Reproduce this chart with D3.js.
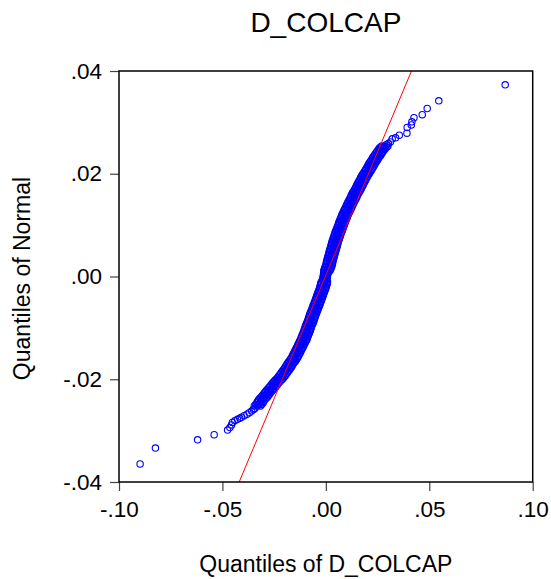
<!DOCTYPE html>
<html>
<head>
<meta charset="utf-8">
<script src="https://cdn.jsdelivr.net/npm/d3@7"></script>
<style>
  body { margin: 0; background: #fff; }
  text { font-family: "Liberation Sans", Arial, sans-serif; fill: #000; }
</style>
</head>
<body>
<div id="chart"></div>
<script>
// axis ticks
const xTicks = [-0.10, -0.05, 0.00, 0.05, 0.10];
const yTicks = [-0.04, -0.02, 0.00, 0.02, 0.04];

// lower tail: sorted D_COLCAP (x) vs normal quantiles (y)
const lowerX = [-0.0898, -0.0824, -0.0620, -0.0540, -0.0475, -0.0464, -0.0456, -0.0452, -0.0440,
  -0.0427, -0.0416, -0.0408, -0.0395, -0.0381, -0.0370, -0.0359, -0.0350, -0.0343];
const lowerY = [-0.0365, -0.0334, -0.0318, -0.0308, -0.0299, -0.0294, -0.0289, -0.0284, -0.0281,
  -0.0278, -0.0276, -0.0274, -0.0271, -0.0268, -0.0265, -0.0262, -0.0259, -0.0257];

// dense middle band: normal quantile levels, with left edge / centre / right edge of the band
const bandY = [
  -0.0252, -0.0246, -0.0240, -0.0235, -0.0229, -0.0223, -0.0217, -0.0211, -0.0205, -0.0200,
  -0.0194, -0.0188, -0.0182, -0.0176, -0.0170, -0.0165, -0.0159, -0.0153, -0.0147, -0.0141,
  -0.0135, -0.0129, -0.0124, -0.0118, -0.0112, -0.0106, -0.0100, -0.0094, -0.0089, -0.0083,
  -0.0077, -0.0071, -0.0065, -0.0059, -0.0054, -0.0048, -0.0042, -0.0036, -0.0030, -0.0024,
  -0.0018, -0.0013, -0.0007, -0.0001, 0.0005, 0.0011, 0.0017, 0.0022, 0.0028, 0.0034,
  0.0040, 0.0046, 0.0052, 0.0057, 0.0063, 0.0069, 0.0075, 0.0081, 0.0087,
  0.0092, 0.0098, 0.0104, 0.0110, 0.0116, 0.0122, 0.0128, 0.0133, 0.0139, 0.0145,
  0.0151, 0.0157, 0.0163, 0.0168, 0.0174, 0.0180, 0.0186, 0.0192, 0.0198, 0.0203,
  0.0209, 0.0215, 0.0221, 0.0227, 0.0233, 0.0238, 0.0244, 0.0250, 0.0254];
const bandXLeft = [
  -0.0346, -0.0334, -0.0325, -0.0313, -0.0302, -0.0290, -0.0277, -0.0265, -0.0252, -0.0240,
  -0.0228, -0.0217, -0.0206, -0.0196, -0.0187, -0.0177, -0.0168, -0.0160, -0.0152, -0.0145,
  -0.0137, -0.0130, -0.0123, -0.0118, -0.0112, -0.0106, -0.0101, -0.0096, -0.0090, -0.0085,
  -0.0080, -0.0075, -0.0069, -0.0063, -0.0058, -0.0053, -0.0047, -0.0042, -0.0037, -0.0031,
  -0.0027, -0.0023, -0.0015, -0.0013, -0.0011, -0.0010, -0.0005, 0.0000, 0.0003, 0.0007,
  0.0011, 0.0015, 0.0019, 0.0023, 0.0027, 0.0031, 0.0036, 0.0041, 0.0046,
  0.0051, 0.0057, 0.0062, 0.0068, 0.0074, 0.0080, 0.0087, 0.0093, 0.0100, 0.0107,
  0.0115, 0.0122, 0.0129, 0.0137, 0.0145, 0.0152, 0.0160, 0.0168, 0.0176, 0.0184,
  0.0193, 0.0202, 0.0210, 0.0220, 0.0229, 0.0238, 0.0248, 0.0259, 0.0270];
const bandXCentre = [
  -0.0331, -0.0319, -0.0310, -0.0298, -0.0287, -0.0275, -0.0262, -0.0250, -0.0237, -0.0225,
  -0.0213, -0.0202, -0.0191, -0.0181, -0.0172, -0.0162, -0.0153, -0.0145, -0.0137, -0.0130,
  -0.0122, -0.0115, -0.0108, -0.0103, -0.0097, -0.0091, -0.0086, -0.0081, -0.0075, -0.0070,
  -0.0065, -0.0060, -0.0054, -0.0048, -0.0043, -0.0038, -0.0032, -0.0027, -0.0022, -0.0016,
  -0.0012, -0.0008, -0.0005, -0.0003, -0.0001, 0.0005, 0.0010, 0.0015, 0.0018, 0.0022,
  0.0026, 0.0030, 0.0034, 0.0038, 0.0042, 0.0046, 0.0051, 0.0056, 0.0061,
  0.0066, 0.0072, 0.0077, 0.0083, 0.0089, 0.0095, 0.0102, 0.0108, 0.0115, 0.0122,
  0.0130, 0.0137, 0.0144, 0.0152, 0.0160, 0.0167, 0.0175, 0.0183, 0.0191, 0.0199,
  0.0208, 0.0217, 0.0225, 0.0235, 0.0244, 0.0253, 0.0263, 0.0274, 0.0285];
const bandXRight = [
  -0.0316, -0.0304, -0.0295, -0.0283, -0.0272, -0.0260, -0.0247, -0.0235, -0.0222, -0.0210,
  -0.0198, -0.0187, -0.0176, -0.0166, -0.0157, -0.0147, -0.0138, -0.0130, -0.0122, -0.0115,
  -0.0107, -0.0100, -0.0093, -0.0088, -0.0082, -0.0076, -0.0071, -0.0066, -0.0060, -0.0055,
  -0.0050, -0.0045, -0.0039, -0.0033, -0.0028, -0.0023, -0.0017, -0.0012, -0.0007, -0.0001,
  0.0003, 0.0007, 0.0005, 0.0007, 0.0009, 0.0020, 0.0025, 0.0030, 0.0033, 0.0037,
  0.0041, 0.0045, 0.0049, 0.0053, 0.0057, 0.0061, 0.0066, 0.0071, 0.0076,
  0.0081, 0.0087, 0.0092, 0.0098, 0.0104, 0.0110, 0.0117, 0.0123, 0.0130, 0.0137,
  0.0145, 0.0152, 0.0159, 0.0167, 0.0175, 0.0182, 0.0190, 0.0198, 0.0206, 0.0214,
  0.0223, 0.0232, 0.0240, 0.0250, 0.0259, 0.0268, 0.0278, 0.0289, 0.0300];

// the same band at the levels in between
const bandYMid = [
  -0.0249, -0.0243, -0.0237, -0.0232, -0.0226, -0.0220, -0.0214, -0.0208, -0.0202, -0.0197,
  -0.0191, -0.0185, -0.0179, -0.0173, -0.0167, -0.0162, -0.0156, -0.0150, -0.0144, -0.0138,
  -0.0132, -0.0126, -0.0121, -0.0115, -0.0109, -0.0103, -0.0097, -0.0091, -0.0086, -0.0080,
  -0.0074, -0.0068, -0.0062, -0.0056, -0.0051, -0.0045, -0.0039, -0.0033, -0.0027, -0.0021,
  -0.0015, -0.0010, -0.0004, 0.0002, 0.0008, 0.0014, 0.0019, 0.0025, 0.0031, 0.0037,
  0.0043, 0.0049, 0.0054, 0.0060, 0.0066, 0.0072, 0.0078, 0.0084, 0.0089,
  0.0095, 0.0101, 0.0107, 0.0113, 0.0119, 0.0125, 0.0130, 0.0136, 0.0142, 0.0148,
  0.0154, 0.0160, 0.0165, 0.0171, 0.0177, 0.0183, 0.0189, 0.0195, 0.0200, 0.0206,
  0.0212, 0.0218, 0.0224, 0.0230, 0.0235, 0.0241, 0.0247, 0.0252];
const bandXLeftMid = [
  -0.0340, -0.0330, -0.0319, -0.0308, -0.0296, -0.0284, -0.0271, -0.0259, -0.0246, -0.0234,
  -0.0223, -0.0212, -0.0201, -0.0192, -0.0182, -0.0173, -0.0164, -0.0156, -0.0149, -0.0141,
  -0.0134, -0.0127, -0.0121, -0.0115, -0.0109, -0.0104, -0.0099, -0.0093, -0.0088, -0.0083,
  -0.0078, -0.0072, -0.0066, -0.0061, -0.0056, -0.0050, -0.0045, -0.0040, -0.0034, -0.0029,
  -0.0025, -0.0022, -0.0014, -0.0012, -0.0008, -0.0007, -0.0002, 0.0002, 0.0005, 0.0009,
  0.0013, 0.0017, 0.0021, 0.0025, 0.0029, 0.0034, 0.0039, 0.0044, 0.0049,
  0.0054, 0.0060, 0.0065, 0.0071, 0.0077, 0.0084, 0.0090, 0.0097, 0.0104, 0.0111,
  0.0119, 0.0126, 0.0133, 0.0141, 0.0149, 0.0156, 0.0164, 0.0172, 0.0180, 0.0189,
  0.0198, 0.0206, 0.0215, 0.0225, 0.0234, 0.0243, 0.0254, 0.0265];
const bandXMid = [
  -0.0325, -0.0315, -0.0304, -0.0293, -0.0281, -0.0269, -0.0256, -0.0244, -0.0231, -0.0219,
  -0.0208, -0.0197, -0.0186, -0.0177, -0.0167, -0.0158, -0.0149, -0.0141, -0.0134, -0.0126,
  -0.0119, -0.0112, -0.0106, -0.0100, -0.0094, -0.0089, -0.0084, -0.0078, -0.0073, -0.0068,
  -0.0063, -0.0057, -0.0051, -0.0046, -0.0041, -0.0035, -0.0030, -0.0025, -0.0019, -0.0014,
  -0.0010, -0.0007, -0.0004, -0.0002, 0.0002, 0.0008, 0.0013, 0.0017, 0.0020, 0.0024,
  0.0028, 0.0032, 0.0036, 0.0040, 0.0044, 0.0049, 0.0054, 0.0059, 0.0064,
  0.0069, 0.0075, 0.0080, 0.0086, 0.0092, 0.0099, 0.0105, 0.0112, 0.0119, 0.0126,
  0.0134, 0.0141, 0.0148, 0.0156, 0.0164, 0.0171, 0.0179, 0.0187, 0.0195, 0.0204,
  0.0213, 0.0221, 0.0230, 0.0240, 0.0249, 0.0258, 0.0269, 0.0280];
const bandXRightMid = [
  -0.0310, -0.0300, -0.0289, -0.0278, -0.0266, -0.0254, -0.0241, -0.0229, -0.0216, -0.0204,
  -0.0193, -0.0182, -0.0171, -0.0162, -0.0152, -0.0143, -0.0134, -0.0126, -0.0119, -0.0111,
  -0.0104, -0.0097, -0.0091, -0.0085, -0.0079, -0.0074, -0.0069, -0.0063, -0.0058, -0.0053,
  -0.0048, -0.0042, -0.0036, -0.0031, -0.0026, -0.0020, -0.0015, -0.0010, -0.0004, 0.0001,
  0.0005, 0.0008, 0.0006, 0.0008, 0.0012, 0.0023, 0.0028, 0.0032, 0.0035, 0.0039,
  0.0043, 0.0047, 0.0051, 0.0055, 0.0059, 0.0064, 0.0069, 0.0074, 0.0079,
  0.0084, 0.0090, 0.0095, 0.0101, 0.0107, 0.0114, 0.0120, 0.0127, 0.0134, 0.0141,
  0.0149, 0.0156, 0.0163, 0.0171, 0.0179, 0.0186, 0.0194, 0.0202, 0.0210, 0.0219,
  0.0228, 0.0236, 0.0245, 0.0255, 0.0264, 0.0273, 0.0284, 0.0295];

// upper tail
const upperX = [0.0294, 0.0302, 0.0312, 0.0321, 0.0337, 0.0355, 0.0392, 0.0393, 0.0413, 0.0416,
  0.0426, 0.0466, 0.0490, 0.0546, 0.0867];
const upperY = [0.0257, 0.0259, 0.0262, 0.0268, 0.0270, 0.0275, 0.0279, 0.0290, 0.0295, 0.0301,
  0.0309, 0.0315, 0.0327, 0.0342, 0.0373];

// reference line end points
const refLineX = [-0.0419, 0.0414];
const refLineY = [-0.04, 0.04];

const width = 551, height = 579;
const plotLeft = 119, plotRight = 532.7, plotTop = 71, plotBottom = 482;

const svg = d3.select("#chart").append("svg")
    .attr("width", width)
    .attr("height", height);

const x = d3.scaleLinear().domain([-0.10, 0.10]).range([plotLeft, plotRight]);
const y = d3.scaleLinear().domain([-0.04, 0.04]).range([plotBottom, plotTop]);

// ".04", "-.04" style labels with a plain hyphen
const fmt = d => d3.format(".2f")(d).replace("\u2212", "-").replace("0.", ".");

// build point list
const points = [];
lowerX.forEach((v, i) => points.push([v, lowerY[i]]));
bandY.forEach((v, i) => {
    points.push([bandXLeft[i], v]);
    points.push([bandXCentre[i], v]);
    points.push([bandXRight[i], v]);
});
bandYMid.forEach((v, i) => {
    points.push([bandXLeftMid[i], v]);
    points.push([bandXMid[i], v]);
    points.push([bandXRightMid[i], v]);
});
upperX.forEach((v, i) => points.push([v, upperY[i]]));

// axes
const xAxis = svg.append("g")
    .attr("transform", `translate(0,${plotBottom})`)
    .call(d3.axisBottom(x).tickValues(xTicks).tickSize(9).tickPadding(10).tickFormat(fmt));
const yAxis = svg.append("g")
    .attr("transform", `translate(${plotLeft},0)`)
    .call(d3.axisLeft(y).tickValues(yTicks).tickSize(9).tickPadding(8).tickFormat(fmt));

[xAxis, yAxis].forEach(g => {
    g.select(".domain").remove();
    g.selectAll(".tick line").attr("stroke", "#444").attr("stroke-width", 1.2);
    g.selectAll(".tick text").attr("font-size", 22.5).attr("font-family", "Liberation Sans, Arial, sans-serif").attr("fill", "#000");
});

// points
svg.append("g").selectAll("circle")
    .data(points)
    .join("circle")
    .attr("cx", d => x(d[0]))
    .attr("cy", d => y(d[1]))
    .attr("r", 3.2)
    .attr("fill", "none")
    .attr("stroke", "#0000ff")
    .attr("stroke-width", 1.1);

// reference line
svg.append("line")
    .attr("x1", x(refLineX[0])).attr("y1", y(refLineY[0]))
    .attr("x2", x(refLineX[1])).attr("y2", y(refLineY[1]))
    .attr("stroke", "#ff0000")
    .attr("stroke-width", 1);

// frame
svg.append("rect")
    .attr("x", plotLeft).attr("y", plotTop)
    .attr("width", plotRight - plotLeft).attr("height", plotBottom - plotTop)
    .attr("fill", "none")
    .attr("stroke", "#000")
    .attr("stroke-width", 1.5);

// title and axis labels
svg.append("text")
    .attr("x", (plotLeft + plotRight) / 2).attr("y", 32)
    .attr("text-anchor", "middle").attr("font-size", 28)
    .text("D_COLCAP");

svg.append("text")
    .attr("x", (plotLeft + plotRight) / 2).attr("y", 572)
    .attr("text-anchor", "middle").attr("font-size", 23)
    .text("Quantiles of D_COLCAP");

svg.append("text")
    .attr("transform", `translate(30,${(plotTop + plotBottom) / 2 + 2}) rotate(-90)`)
    .attr("text-anchor", "middle").attr("font-size", 23)
    .text("Quantiles of Normal");
</script>
</body>
</html>
